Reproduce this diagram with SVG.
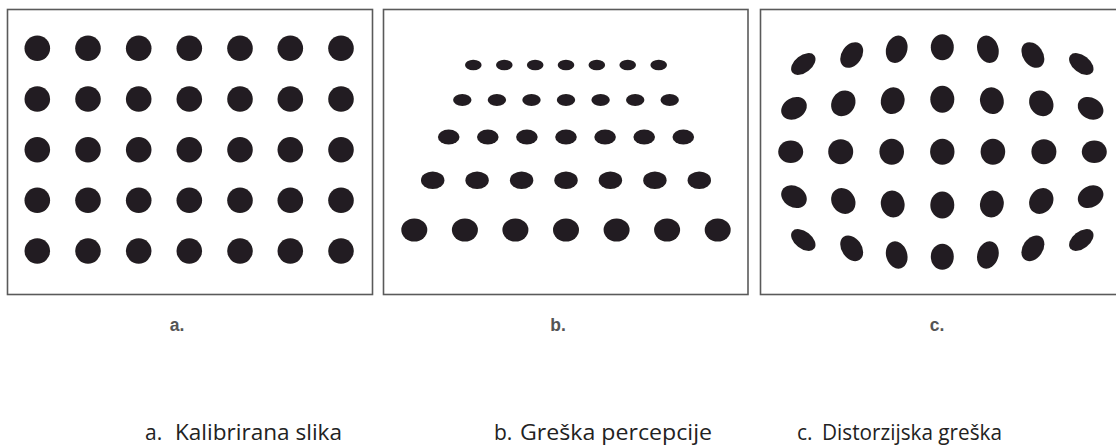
<svg xmlns="http://www.w3.org/2000/svg" width="1116" height="447" viewBox="0 0 1116 447">
  <style>
    .frame { fill: #ffffff; stroke: #5a5a5a; stroke-width: 1.6; }
    .dot { fill: #231f20; }
    .lbl { font-family: "Liberation Sans", Arial, sans-serif; font-size: 17.5px; font-weight: bold; fill: #555555; text-anchor: middle; }
    .cap { font-family: "Open Sans", "Liberation Sans", sans-serif; font-size: 21px; fill: #222222; }
  </style>
  <defs>
    <filter id="soft" x="-10%" y="-10%" width="120%" height="120%">
      <feGaussianBlur stdDeviation="0.5"/>
    </filter>
  </defs>
  <rect x="0" y="0" width="1116" height="447" fill="#ffffff"/>

  <g id="panel-a">
    <rect class="frame" x="7.5" y="9.5" width="365" height="285"/>
    <g filter="url(#soft)">
      <circle class="dot" cx="37.3" cy="48.3" r="12.8"/><circle class="dot" cx="88" cy="48.3" r="12.8"/><circle class="dot" cx="138.7" cy="48.3" r="12.8"/><circle class="dot" cx="189.3" cy="48.3" r="12.8"/><circle class="dot" cx="240" cy="48.3" r="12.8"/><circle class="dot" cx="290.3" cy="48.3" r="12.8"/><circle class="dot" cx="341" cy="48.3" r="12.8"/>
      <circle class="dot" cx="37.3" cy="99" r="12.8"/><circle class="dot" cx="88" cy="99" r="12.8"/><circle class="dot" cx="138.7" cy="99" r="12.8"/><circle class="dot" cx="189.3" cy="99" r="12.8"/><circle class="dot" cx="240" cy="99" r="12.8"/><circle class="dot" cx="290.3" cy="99" r="12.8"/><circle class="dot" cx="341" cy="99" r="12.8"/>
      <circle class="dot" cx="37.3" cy="149.7" r="12.8"/><circle class="dot" cx="88" cy="149.7" r="12.8"/><circle class="dot" cx="138.7" cy="149.7" r="12.8"/><circle class="dot" cx="189.3" cy="149.7" r="12.8"/><circle class="dot" cx="240" cy="149.7" r="12.8"/><circle class="dot" cx="290.3" cy="149.7" r="12.8"/><circle class="dot" cx="341" cy="149.7" r="12.8"/>
      <circle class="dot" cx="37.3" cy="200.3" r="12.8"/><circle class="dot" cx="88" cy="200.3" r="12.8"/><circle class="dot" cx="138.7" cy="200.3" r="12.8"/><circle class="dot" cx="189.3" cy="200.3" r="12.8"/><circle class="dot" cx="240" cy="200.3" r="12.8"/><circle class="dot" cx="290.3" cy="200.3" r="12.8"/><circle class="dot" cx="341" cy="200.3" r="12.8"/>
      <circle class="dot" cx="37.3" cy="251" r="12.8"/><circle class="dot" cx="88" cy="251" r="12.8"/><circle class="dot" cx="138.7" cy="251" r="12.8"/><circle class="dot" cx="189.3" cy="251" r="12.8"/><circle class="dot" cx="240" cy="251" r="12.8"/><circle class="dot" cx="290.3" cy="251" r="12.8"/><circle class="dot" cx="341" cy="251" r="12.8"/>
    </g>
  </g>

  <g id="panel-b">
    <rect class="frame" x="383.5" y="9.5" width="364.5" height="285"/>
    <g filter="url(#soft)">
      <ellipse class="dot" cx="473.3" cy="65" rx="8.3" ry="5.2"/><ellipse class="dot" cx="504.3" cy="65" rx="8.3" ry="5.2"/><ellipse class="dot" cx="535.2" cy="65" rx="8.3" ry="5.2"/><ellipse class="dot" cx="566" cy="65" rx="8.3" ry="5.2"/><ellipse class="dot" cx="596.8" cy="65" rx="8.3" ry="5.2"/><ellipse class="dot" cx="627.7" cy="65" rx="8.3" ry="5.2"/><ellipse class="dot" cx="658.7" cy="65" rx="8.3" ry="5.2"/>
      <ellipse class="dot" cx="462.3" cy="100" rx="9.2" ry="6"/><ellipse class="dot" cx="496.9" cy="100" rx="9.2" ry="6"/><ellipse class="dot" cx="531.5" cy="100" rx="9.2" ry="6"/><ellipse class="dot" cx="566" cy="100" rx="9.2" ry="6"/><ellipse class="dot" cx="600.6" cy="100" rx="9.2" ry="6"/><ellipse class="dot" cx="635.2" cy="100" rx="9.2" ry="6"/><ellipse class="dot" cx="669.7" cy="100" rx="9.2" ry="6"/>
      <ellipse class="dot" cx="448.7" cy="137" rx="10.8" ry="7.6"/><ellipse class="dot" cx="487.8" cy="137" rx="10.8" ry="7.6"/><ellipse class="dot" cx="526.9" cy="137" rx="10.8" ry="7.6"/><ellipse class="dot" cx="566" cy="137" rx="10.8" ry="7.6"/><ellipse class="dot" cx="605.1" cy="137" rx="10.8" ry="7.6"/><ellipse class="dot" cx="644.2" cy="137" rx="10.8" ry="7.6"/><ellipse class="dot" cx="683.3" cy="137" rx="10.8" ry="7.6"/>
      <ellipse class="dot" cx="432.7" cy="180.3" rx="11.7" ry="8.8"/><ellipse class="dot" cx="477.1" cy="180.3" rx="11.7" ry="8.8"/><ellipse class="dot" cx="521.6" cy="180.3" rx="11.7" ry="8.8"/><ellipse class="dot" cx="566" cy="180.3" rx="11.7" ry="8.8"/><ellipse class="dot" cx="610.4" cy="180.3" rx="11.7" ry="8.8"/><ellipse class="dot" cx="654.9" cy="180.3" rx="11.7" ry="8.8"/><ellipse class="dot" cx="699.3" cy="180.3" rx="11.7" ry="8.8"/>
      <ellipse class="dot" cx="414.3" cy="230" rx="13" ry="11.5"/><ellipse class="dot" cx="464.9" cy="230" rx="13" ry="11.5"/><ellipse class="dot" cx="515.4" cy="230" rx="13" ry="11.5"/><ellipse class="dot" cx="566" cy="230" rx="13" ry="11.5"/><ellipse class="dot" cx="616.6" cy="230" rx="13" ry="11.5"/><ellipse class="dot" cx="667.1" cy="230" rx="13" ry="11.5"/><ellipse class="dot" cx="717.7" cy="230" rx="13" ry="11.5"/>
    </g>
  </g>

  <g id="panel-c">
    <rect class="frame" x="760.5" y="9.5" width="400" height="285"/>
    <g filter="url(#soft)">
      <!-- row 1 -->
      <ellipse class="dot" rx="14" ry="8.5" transform="translate(803.3 64) rotate(-38)"/>
      <ellipse class="dot" rx="14" ry="10" transform="translate(851.7 55) rotate(-55)"/>
      <ellipse class="dot" rx="14" ry="10.5" transform="translate(896.7 49.3) rotate(-72)"/>
      <ellipse class="dot" rx="11.5" ry="13" transform="translate(942.3 47.3)"/>
      <ellipse class="dot" rx="14" ry="10.5" transform="translate(987.9 49.3) rotate(72)"/>
      <ellipse class="dot" rx="14" ry="10" transform="translate(1032.9 55) rotate(55)"/>
      <ellipse class="dot" rx="14" ry="8.5" transform="translate(1081.3 64) rotate(38)"/>
      <!-- row 2 -->
      <ellipse class="dot" rx="13.5" ry="10.5" transform="translate(794 108.3) rotate(-30)"/>
      <ellipse class="dot" rx="13.5" ry="11.5" transform="translate(843.3 103.3) rotate(-55)"/>
      <ellipse class="dot" rx="13.5" ry="11.8" transform="translate(892.7 100.7) rotate(-75)"/>
      <ellipse class="dot" rx="12" ry="13.5" transform="translate(942.3 99.3)"/>
      <ellipse class="dot" rx="13.5" ry="11.8" transform="translate(991.9 100.7) rotate(75)"/>
      <ellipse class="dot" rx="13.5" ry="11.5" transform="translate(1041.3 103.3) rotate(55)"/>
      <ellipse class="dot" rx="13.5" ry="10.5" transform="translate(1090.6 108.3) rotate(30)"/>
      <!-- row 3 -->
      <ellipse class="dot" cx="790.7" cy="151.7" rx="12.5" ry="11.3"/>
      <ellipse class="dot" cx="840.7" cy="151.7" rx="12.5" ry="12.5"/>
      <ellipse class="dot" cx="891.7" cy="151.7" rx="12.3" ry="13"/>
      <ellipse class="dot" cx="942.3" cy="151.7" rx="12.2" ry="13"/>
      <ellipse class="dot" cx="992.9" cy="151.7" rx="12.3" ry="13"/>
      <ellipse class="dot" cx="1043.9" cy="151.7" rx="12.5" ry="12.5"/>
      <ellipse class="dot" cx="1094.3" cy="151.7" rx="12.5" ry="11.3"/>
      <!-- row 4 -->
      <ellipse class="dot" rx="13.5" ry="10.5" transform="translate(794 196.7) rotate(30)"/>
      <ellipse class="dot" rx="13.5" ry="11.5" transform="translate(843.3 201) rotate(55)"/>
      <ellipse class="dot" rx="13.5" ry="11.8" transform="translate(892.7 204) rotate(75)"/>
      <ellipse class="dot" rx="12" ry="13.5" transform="translate(942.3 205)"/>
      <ellipse class="dot" rx="13.5" ry="11.8" transform="translate(991.9 204) rotate(-75)"/>
      <ellipse class="dot" rx="13.5" ry="11.5" transform="translate(1041.3 201) rotate(-55)"/>
      <ellipse class="dot" rx="13.5" ry="10.5" transform="translate(1090.6 196.7) rotate(-30)"/>
      <!-- row 5 -->
      <ellipse class="dot" rx="14" ry="8.5" transform="translate(803.3 240) rotate(38)"/>
      <ellipse class="dot" rx="14" ry="10" transform="translate(851.7 248.3) rotate(55)"/>
      <ellipse class="dot" rx="14" ry="10.5" transform="translate(896.7 255) rotate(72)"/>
      <ellipse class="dot" rx="11.5" ry="13" transform="translate(942.3 256.7)"/>
      <ellipse class="dot" rx="14" ry="10.5" transform="translate(987.9 255) rotate(-72)"/>
      <ellipse class="dot" rx="14" ry="10" transform="translate(1032.9 248.3) rotate(-55)"/>
      <ellipse class="dot" rx="14" ry="8.5" transform="translate(1081.3 240) rotate(-38)"/>
    </g>
  </g>

  <g id="labels">
    <text class="lbl" x="177" y="331">a.</text>
    <text class="lbl" x="558" y="331">b.</text>
    <text class="lbl" x="937" y="331">c.</text>
  </g>

  <g id="legend">
    <text class="cap" x="145" y="440">a.</text>
    <text class="cap" x="175" y="440" textLength="167" lengthAdjust="spacingAndGlyphs">Kalibrirana slika</text>
    <text class="cap" x="494" y="440">b.</text>
    <text class="cap" x="520" y="440" textLength="192" lengthAdjust="spacingAndGlyphs">Greška percepcije</text>
    <text class="cap" x="797" y="440">c.</text>
    <text class="cap" x="822" y="440" textLength="180" lengthAdjust="spacingAndGlyphs">Distorzijska greška</text>
  </g>
</svg>
